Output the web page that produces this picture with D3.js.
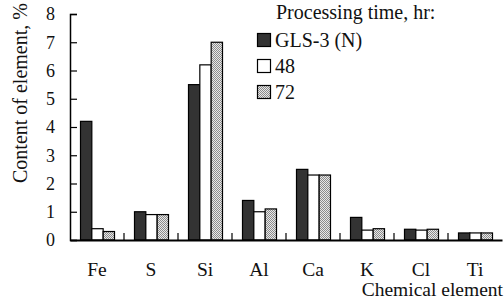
<!DOCTYPE html>
<html><head><meta charset="utf-8">
<script src="https://cdn.jsdelivr.net/npm/d3@7"></script>
<style>body{margin:0;background:#fff}svg{display:block}</style>
</head><body>
<svg id="c" width="504" height="300" style="font-family:Liberation Serif"></svg>
<script>
const categories = ["Fe","S","Si","Al","Ca","K","Cl","Ti"];
const seriesNames = ["GLS-3 (N)","48","72"];
const gls3 = [4.2,1.0,5.5,1.4,2.5,0.8,0.38,0.25];
const h48 = [0.4,0.9,6.2,1.0,2.3,0.35,0.35,0.25];
const h72 = [0.3,0.9,7.0,1.1,2.3,0.4,0.38,0.25];
const yTicks = [0,1,2,3,4,5,6,7,8];

const FONT = "Liberation Serif";
const svg = d3.select("#c");
const defs = svg.append("defs");
const pat = defs.append("pattern").attr("id","dots").attr("width",2).attr("height",2).attr("patternUnits","userSpaceOnUse");
pat.append("rect").attr("width",2).attr("height",2).attr("fill","#e8e8e8");
pat.append("rect").attr("width",1).attr("height",1).attr("fill","#8c8c8c");
pat.append("rect").attr("x",1).attr("y",1).attr("width",1).attr("height",1).attr("fill","#8c8c8c");
const fills = ["#333333","#ffffff","url(#dots)"];

const x0 = 70, x1 = 502, yTop = 14, yBot = 240;
const x = d3.scaleBand().domain(categories).range([x0,x1]).paddingInner(0).paddingOuter(0);
const xs = d3.scaleBand().domain(seriesNames).range([0,34]);
const y = d3.scaleLinear().domain([0,8]).range([yBot,yTop]);
const series = [gls3,h48,h72];

const g = svg.append("g");
series.forEach((vals,si)=>{
  g.selectAll(null).data(categories).enter().append("rect")
    .attr("x",d=>x(d)+(x.bandwidth()-34)/2+xs(seriesNames[si])+0.5)
    .attr("y",(d,i)=>y(vals[i]))
    .attr("width",xs.bandwidth())
    .attr("height",(d,i)=>yBot-y(vals[i]))
    .attr("fill",fills[si]).attr("stroke","#000").attr("stroke-width",1.2);
});

// y axis
const ya = svg.append("g").attr("transform",`translate(${x0},0)`)
  .call(d3.axisLeft(y).tickValues(yTicks).tickSize(-7).tickPadding(15).tickFormat(d3.format("d")));
ya.attr("font-family",FONT).attr("font-size",18);
ya.select(".domain").attr("stroke","#000").attr("stroke-width",1.5);
ya.selectAll(".tick line").attr("stroke","#000").attr("stroke-width",1.2);
ya.selectAll("text").style("font-size","18px").style("font-family",FONT).attr("fill","#111");

// x axis
const xa = svg.append("g").attr("transform",`translate(0,${yBot})`)
  .call(d3.axisBottom(x).tickSize(0).tickPadding(22));
xa.attr("font-family",FONT).attr("font-size",19);
xa.select(".domain").attr("stroke","#000").attr("stroke-width",1.8);
xa.selectAll("text").attr("dy",null).attr("y",null).attr("transform","translate(0,35.5)")
  .style("font-size","19.5px").style("font-family",FONT).attr("fill","#111");
svg.append("g").selectAll("line").data(categories.slice(1)).enter().append("line")
  .attr("x1",d=>x(d)).attr("x2",d=>x(d)).attr("y1",yBot).attr("y2",yBot-7)
  .attr("stroke","#000").attr("stroke-width",1.2);

svg.append("text").attr("x",503).attr("y",296).attr("text-anchor","end")
  .style("font-size","19.5px").style("font-family",FONT).attr("fill","#111").text("Chemical element");
svg.append("text").attr("transform","translate(27,183) rotate(-90)")
  .style("font-size","20px").style("font-family",FONT).attr("fill","#111").text("Content of element, %");

// legend
svg.append("text").attr("x",276).attr("y",18.5)
  .style("font-size","20px").style("font-family",FONT).attr("fill","#111").text("Processing time, hr:");
const lg = svg.append("g");
seriesNames.forEach((n,i)=>{
  const cy = 40 + i*26;
  lg.append("rect").attr("x",257.5).attr("y",cy-6.5).attr("width",13).attr("height",13)
    .attr("fill",fills[i]).attr("stroke","#000").attr("stroke-width",1.2);
  lg.append("text").attr("x",275).attr("y",cy+7)
    .style("font-size","20px").style("font-family",FONT).attr("fill","#111").text(n);
});
</script>
</body></html>
